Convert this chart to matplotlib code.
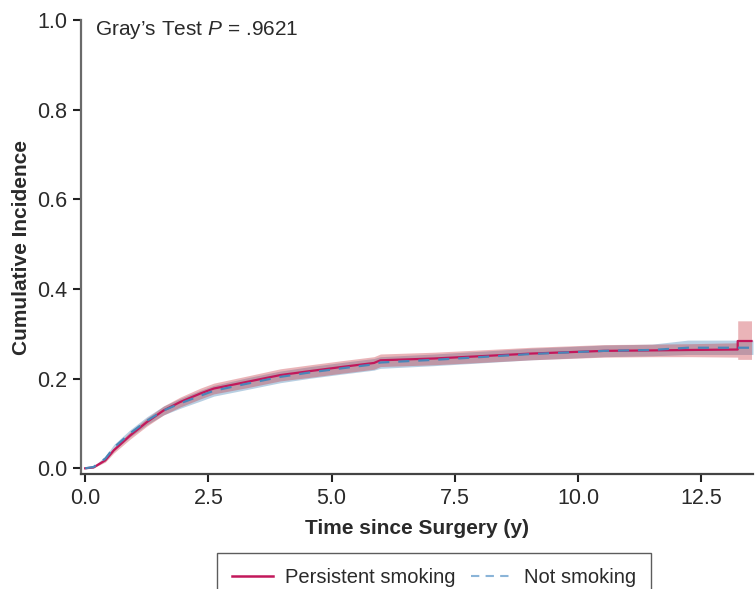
import matplotlib
matplotlib.use("Agg")
import matplotlib.pyplot as plt
from matplotlib.lines import Line2D

plt.rcParams["font.family"] = ["Liberation Sans", "DejaVu Sans"]
plt.rcParams["mathtext.fontset"] = "custom"
plt.rcParams["mathtext.rm"] = "Liberation Sans"
plt.rcParams["mathtext.it"] = "Liberation Sans:italic"

# Persistent smoking: cumulative incidence and 95% band
t_ps = [0, 0.17, 0.41, 0.58, 0.91, 1.25, 1.59, 1.93, 2.34, 2.61, 3.29, 3.96, 4.57,
        5.2, 5.86, 5.99, 7.08, 8.0, 9.05, 10.53, 11.5, 12.3, 13.24, 13.24, 13.52]
ci_ps = [0, 0.002, 0.018, 0.040, 0.073, 0.103, 0.129, 0.148, 0.167, 0.178, 0.193, 0.208, 0.217,
         0.226, 0.235, 0.241, 0.245, 0.250, 0.256, 0.262, 0.263, 0.264, 0.265, 0.284, 0.284]
lo_ps = [0, 0.001, 0.014, 0.034, 0.065, 0.094, 0.119, 0.137, 0.155, 0.166, 0.180, 0.195, 0.203,
         0.212, 0.221, 0.227, 0.231, 0.236, 0.242, 0.248, 0.249, 0.249, 0.248, 0.243, 0.243]
up_ps = [0, 0.004, 0.022, 0.046, 0.081, 0.112, 0.139, 0.159, 0.179, 0.190, 0.206, 0.222, 0.231,
         0.240, 0.249, 0.255, 0.259, 0.264, 0.270, 0.276, 0.277, 0.278, 0.280, 0.329, 0.329]

# Not smoking
t_ns = [0, 0.17, 0.41, 0.58, 0.91, 1.25, 1.59, 1.93, 2.34, 2.61, 3.29, 3.96, 4.57,
        5.2, 5.86, 5.99, 7.08, 8.0, 9.05, 10.53, 11.5, 12.23, 13.55]
ci_ns = [0, 0.003, 0.022, 0.046, 0.078, 0.106, 0.129, 0.145, 0.162, 0.173, 0.189, 0.204, 0.214,
         0.223, 0.232, 0.236, 0.242, 0.248, 0.255, 0.262, 0.264, 0.269, 0.269]
lo_ns = [0, 0.001, 0.017, 0.039, 0.070, 0.097, 0.119, 0.134, 0.150, 0.161, 0.176, 0.191, 0.201,
         0.210, 0.219, 0.223, 0.229, 0.235, 0.242, 0.249, 0.251, 0.254, 0.254]
up_ns = [0, 0.005, 0.027, 0.053, 0.086, 0.115, 0.139, 0.156, 0.174, 0.185, 0.202, 0.217, 0.227,
         0.236, 0.245, 0.249, 0.255, 0.261, 0.268, 0.275, 0.277, 0.286, 0.286]

x_ticks = [0.0, 2.5, 5.0, 7.5, 10.0, 12.5]
y_ticks = [0.0, 0.2, 0.4, 0.6, 0.8, 1.0]

red = "#c2185b"
blue = "#4a86b8"
text_col = "#2a2a2a"

fig = plt.figure(figsize=(7.56, 5.89), dpi=100)
ax = fig.add_axes([0.107, 0.195, 0.889, 0.771])

ax.fill_between(t_ns, lo_ns, up_ns, color="#4682b4", alpha=0.38, linewidth=0)
ax.fill_between(t_ps, lo_ps, up_ps, color="#c83c46", alpha=0.38, linewidth=0)
ax.plot(t_ps, ci_ps, color=red, linewidth=1.6)
ax.plot(t_ns, ci_ns, color=blue, linewidth=1.6, linestyle=(0, (5, 4)))

ax.set_xlim(-0.087, 13.55)
ax.set_ylim(-0.013, 1.0)
ax.set_xticks(x_ticks)
ax.set_yticks(y_ticks)
ax.set_xticklabels([f"{v:.1f}" for v in x_ticks])
ax.set_yticklabels([f"{v:.1f}" for v in y_ticks])
ax.tick_params(direction="out", length=6, width=1.5, colors="#222222",
               labelsize=15.5, labelcolor=text_col, pad=4)

for side in ["top", "right"]:
    ax.spines[side].set_visible(False)
ax.spines["left"].set_color("#6a6a6a")
ax.spines["bottom"].set_color("#444444")
ax.spines["left"].set_linewidth(1.6)
ax.spines["bottom"].set_linewidth(1.6)

ax.set_xlabel("Time since Surgery (y)", fontsize=15, fontweight="bold", color=text_col, labelpad=7)
ax.set_ylabel("Cumulative Incidence", fontsize=15, fontweight="bold", color=text_col, labelpad=4)

ax.text(0.2, 0.978, "Gray\u2019s Test $\\mathit{P}$ = .9621", fontsize=15, color=text_col,
        va="center", ha="left")

handles = [Line2D([], [], color=red, linewidth=1.8),
           Line2D([], [], color="#8ab4d8", linewidth=1.5, linestyle=(0, (4, 3)))]
leg = fig.legend(handles, ["Persistent smoking", "Not smoking"], loc="upper center",
                 bbox_to_anchor=(434 / 756, 1 - 553 / 589), ncol=2, fontsize=14.5,
                 frameon=True, fancybox=False, handlelength=2.0, columnspacing=0.8,
                 borderpad=0.75, handletextpad=0.6, borderaxespad=0)
leg.get_frame().set_edgecolor("#333333")
leg.get_frame().set_linewidth(1.0)
for txt in leg.get_texts():
    txt.set_color(text_col)

fig.savefig("out.png", dpi=100)
